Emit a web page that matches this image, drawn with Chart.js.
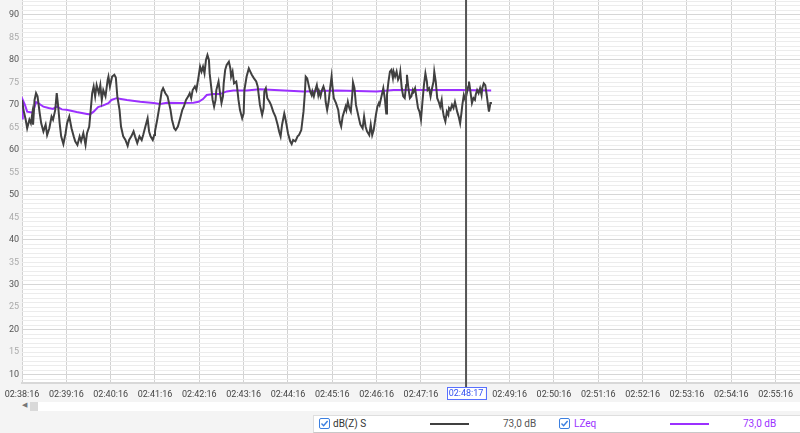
<!DOCTYPE html>
<html>
<head>
<meta charset="utf-8">
<script src="https://cdn.jsdelivr.net/npm/chart.js@4.4.1/dist/chart.umd.min.js"></script>
<style>
  body { margin:0; width:800px; height:433px; overflow:hidden; position:relative; background:#f4f4f4; font-family:Roboto, "Noto Sans", sans-serif; }
  #wrap { position:absolute; left:0; top:0; width:800px; height:400px; }
  .track { position:absolute; left:38px; top:402px; width:762px; height:9px; background:#fff; }
  .thumb { position:absolute; left:30px; top:402px; width:8px; height:9px; background:#d9d9d9; }
  .arrow { position:absolute; left:22px; top:401px; font-size:7px; color:#777; }
  .legend { position:absolute; left:313px; top:415px; width:487px; height:16px; background:#fff; border-top:1px solid #dedede; border-left:1px solid #dedede; border-bottom:1px solid #c8c8c8; font-size:10px; }
  .legend span { position:absolute; top:2px; line-height:12px; }
  .cb { position:absolute; top:2px; width:9px; height:9px; border:1.5px solid #3b7fe0; border-radius:2px; background:#fff; }
  .cb svg { position:absolute; left:0; top:0; }
  .ln { position:absolute; top:7px; height:2px; }
</style>
</head>
<body>
<div id="wrap"><canvas id="chart"></canvas></div>
<div class="arrow">&#9664;</div>
<div class="thumb"></div>
<div class="track"></div>
<div class="legend" id="legend"></div>
<script>
// ---- data (seconds from 02:38:16, dB) ----
const tickLabels = ['02:38:16','02:39:16','02:40:16','02:41:16','02:42:16','02:43:16','02:44:16','02:45:16','02:46:16',
  '02:47:16','02:48:16','02:49:16','02:50:16','02:51:16','02:52:16','02:53:16','02:54:16','02:55:16'];
const cursorSec = 601;
const cursorLabel = '02:48:17';

const dbzSecs = [0,2,5,7,10,12,14,15,17,19,21,24,26,29,32,34,37,40,42,45,47,49,51,53,56,59,61,64,67,70,
  72,75,78,80,83,86,88,91,93,95,97,99,101,104,106,108,110,113,116,117,119,122,125,127,129,132,134,137,140,143,
  145,148,151,153,156,159,162,164,167,170,172,174,177,179,180,183,186,189,191,194,197,199,201,203,206,208,211,214,217,219,
  222,225,227,229,231,234,236,239,241,243,245,247,249,251,253,254,256,258,260,262,263,266,268,270,272,273,275,277,280,282,
  283,285,287,290,291,293,295,298,300,301,304,307,309,311,314,317,319,
  322,325,327,328,330,332,335,337,340,343,346,348,350,352,355,356,358,360,363,365,367,370,373,375,378,381,383,384,386,388,
  390,392,393,395,397,399,401,402,404,406,408,410,411,413,415,417,419,420,422,425,428,
  430,432,434,436,438,439,441,443,445,447,448,450,452,454,456,458,461,463,465,467,470,472,474,476,479,481,483,484,486,489,
  491,493,494,496,498,500,502,503,505,507,509,511,512,514,516,518,520,521,523,525,527,529,530,532,534,536,538,
  540,542,544,546,548,549,551,553,555,557,558,560,562,564,566,568,569,571,573,575,577,578,580,582,584,586,587,589,591,593,
  595,596,598,600,602,604,605,607,609,611,613,614,616,618,620,622,623,625,627,629,631,632,634,636];
const dbzValues = [71.1,68.9,66.7,64.8,66.7,65.9,68.1,65.6,71.1,72.6,71.9,68.1,65.9,64.1,65.6,63.3,64.8,67.4,66.7,68.9,
  72.6,69.6,65.9,63,61.3,63.7,65.9,67.4,64.8,63,61.9,61.1,63,61.9,63.7,61.1,63.7,65.2,68.9,72.6,
  74.1,71.9,74.4,72.6,74.4,71.1,73.3,71.9,75.6,76.3,74.1,76.3,76.7,76.1,71.9,68.9,65.2,63,62.2,60.9,
  62.2,63,64.1,63,61.5,63,62.2,63.3,65.2,67,64.1,63,62.2,63.3,64.1,66.7,69.6,73,73.7,72.6,
  71.9,70.4,68.9,66.7,64.8,64.4,65.2,67,68.9,69.6,71.1,71.9,72.6,71.5,73.3,74.1,73.3,76.3,78.5,77.4,
  78.5,77,80,81.1,80,77,74.1,71.1,69.6,71.1,73.3,75.2,72.6,70.4,71.9,74.8,77.8,78.9,79.6,78.1,
  76.3,77.4,74.8,75.2,74.1,71.1,68.9,67,68.1,73.3,76.3,78.1,77.4,76.7,75.9,75.2,74.1,
  70,67.8,69.3,73,73.7,71.5,70.7,70,68.5,67.4,65.6,64.1,63,65.6,68.1,67.4,65.6,63.7,61.9,61.3,
  62.2,61.9,63,63.3,64.4,68.5,73,76.3,75.9,74.4,73,72.2,73,71.9,73.3,74.4,72.2,73,71.9,73.3,
  74.1,73,70.7,68.9,70.7,73.7,76.3,74.4,71.5,70.4,68.9,
  66.3,65.2,67.4,68.5,69.6,68.9,70.7,69.3,68.5,72.2,75,73.7,70,68.5,67,65.6,64.8,67.4,65.2,64.1,
  63.3,65.6,63.3,64.4,67.8,69.6,70.4,70,71.5,73.7,71.5,68.1,72.2,75.2,77.4,77.8,76,77.4,76.3,77.4,
  75.6,76.3,77.4,73.7,71.9,71.5,74.4,76.7,73.7,71.5,71.9,73.3,72.9,73.7,71.5,69.3,68.5,
  66.7,70.7,74.4,77,75.2,73.3,73.7,71.9,73.7,75.2,77.4,75.2,71.5,70.7,69.6,71.1,69.3,67.4,66.3,68.5,
  67.8,69.3,68.9,70,69.3,70.7,70,68.5,67.4,65.9,68.5,70,72.2,71.1,72.6,74.1,75.2,72.9,70.4,71.5,
  71.1,72.2,73.3,72.6,73.7,72.2,73.7,74.8,74.4,72.2,69.6,68.5,70.4,70.4];

const lzeqSecs = [0,1,4,7,13,15,19,22,29,36,42,47,54,60,74,88,92,97,103,110,117,121,128,142,160,178,187,196,214,232,
  239,245,250,259,268,277,286,304,322,381,426,480,503,525,593,635];
const lzeqValues = [67,71.1,70,68.5,68.3,68.5,70.6,70.4,69.6,69.3,69.1,69.6,69,68.9,68.4,68,67.9,68.5,69.5,69.9,
  70.4,71.1,71.5,71.1,70.7,70.4,70.2,70.5,70.4,70.5,70.7,71.3,72.2,72.4,72.4,73,73.2,73.2,73.5,73,
  73.2,73,73.3,73.3,73.3,73.2];

const legendItems = [
  { name:'dB(Z) S', value:'73,0 dB', color:'#404040', text:'#333', valColor:'#555' },
  { name:'LZeq', value:'73,0 dB', color:'#9b30ff', text:'#9b30ff', valColor:'#9b30ff' }
];

const FONT = 'Roboto';

// white plot area + cursor line with its time box
const plotBg = {
  id:'plotBg',
  beforeDraw(chart) {
    const { ctx, chartArea:a } = chart;
    ctx.save(); ctx.fillStyle = '#fff';
    ctx.fillRect(a.left, a.top, a.right - a.left, a.bottom - a.top);
    ctx.restore();
  },
  afterDraw(chart) {
    const { ctx, chartArea:a } = chart;
    const x = chart.scales.x.getPixelForValue(cursorSec);
    ctx.save();
    ctx.strokeStyle = '#555'; ctx.lineWidth = 2;
    ctx.beginPath(); ctx.moveTo(x, a.top); ctx.lineTo(x, a.bottom + 4); ctx.stroke();
    ctx.font = '9px ' + FONT;
    const w = ctx.measureText(cursorLabel).width + 4;
    ctx.fillStyle = '#fff';
    ctx.fillRect(x - w/2, a.bottom + 4, w, 12);
    ctx.strokeStyle = '#5870ff'; ctx.lineWidth = 1;
    ctx.strokeRect(Math.round(x - w/2) + 0.5, a.bottom + 4.5, Math.round(w), 12);
    ctx.fillStyle = '#3350f0'; ctx.textAlign = 'center'; ctx.textBaseline = 'middle';
    ctx.fillText(cursorLabel, x, a.bottom + 11);
    ctx.restore();
  }
};

const toPts = (xs, ys) => xs.map((s, i) => ({ x:s, y:ys[i] }));

new Chart(document.getElementById('chart'), {
  type:'line',
  data:{
    datasets:[
      { label:'dB(Z) S', data:toPts(dbzSecs, dbzValues), borderColor:'#404040', borderWidth:2, pointRadius:0, tension:0 },
      { label:'LZeq', data:toPts(lzeqSecs, lzeqValues), borderColor:'#9b30ff', borderWidth:2, pointRadius:0, tension:0 }
    ]
  },
  options:{
    responsive:true, maintainAspectRatio:false, animation:false,
    layout:{ padding:0 },
    plugins:{ legend:{ display:false }, tooltip:{ enabled:false } },
    scales:{
      x:{
        type:'linear', min:0, max:1053,
        border:{ display:true, color:'#d8d8d8', width:2 },
        grid:{ color:'#d2d2d2', drawTicks:false },
        ticks:{
          stepSize:60, autoSkip:false, maxRotation:0, includeBounds:false, padding:6,
          color:'#444', font:{ family:FONT, size:9 },
          callback:v => {
            const i = Math.round(v / 60);
            return i === Math.floor(cursorSec / 60) ? '' : (tickLabels[i] || '');
          }
        },
        afterFit:s => { s.height = 17; s.paddingLeft = 0; s.paddingRight = 0; }
      },
      y:{
        min:8.15, max:93.33,
        border:{ display:false },
        grid:{ drawTicks:false, color:c => c.tick.value % 10 === 0 ? '#d6d6d6' : '#ececec' },
        ticks:{
          stepSize:1, autoSkip:false, includeBounds:false, padding:3,
          font:{ family:FONT, size:9 },
          color:c => c.tick.value % 10 === 0 ? '#555' : '#aaa',
          callback:v => v % 5 === 0 ? String(v) : ''
        },
        afterFit:s => { s.width = 22; s.paddingTop = 0; s.paddingBottom = 0; }
      }
    }
  },
  plugins:[plotBg]
});

// legend strip
const check = '<svg width="9" height="9" viewBox="0 0 9 9"><path d="M1.5 4.6 L3.6 6.7 L7.6 2" fill="none" stroke="#3b7fe0" stroke-width="1.4"/></svg>';
const legend = document.getElementById('legend');
const slots = [ { cb:5, name:19, line:116, val:189 }, { cb:245, name:260, line:356, val:429 } ];
legendItems.forEach((it, i) => {
  const p = slots[i];
  legend.insertAdjacentHTML('beforeend',
    `<div class="cb" style="left:${p.cb}px">${check}</div>` +
    `<span style="left:${p.name}px;color:${it.text}">${it.name}</span>` +
    `<div class="ln" style="left:${p.line}px;width:39px;background:${it.color}"></div>` +
    `<span style="left:${p.val}px;color:${it.valColor}">${it.value}</span>`);
});
</script>
</body>
</html>
